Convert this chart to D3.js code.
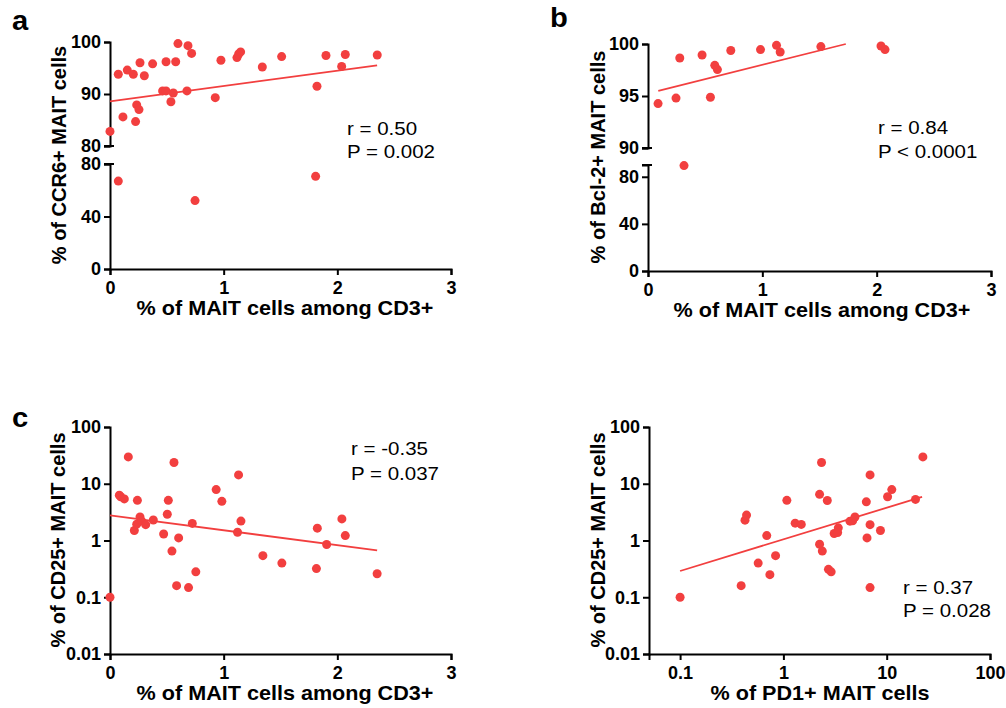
<!DOCTYPE html>
<html>
<head>
<meta charset="utf-8">
<script src="https://cdn.jsdelivr.net/npm/d3@7"></script>
<style>
  body { margin: 0; background: #fff; }
  svg { font-family: "Liberation Sans", Arial, Helvetica, sans-serif; }
</style>
</head>
<body>
<div id="chart"></div>
<script>
// panel a: CCR6+ vs % MAIT among CD3+
const aX = [0, 0.073, 0.114, 0.152, 0.205, 0.264, 0.235, 0.255, 0.225, 0.302, 0.375, 0.463, 0.493, 0.493,
  0.557, 0.536, 0.578, 0.598, 0.677, 0.686, 0.718, 0.926, 0.976, 1.117, 1.132, 1.149, 1.34, 1.51, 1.821,
  1.9, 2.038, 2.07, 2.351, 0.073, 0.748, 1.809]
const aY = [82.8, 93.8, 85.6, 94.6, 93.8, 96.0, 87.9, 87.0, 84.7, 93.5, 95.8, 90.6, 90.6, 96.2,
  90.2, 88.5, 96.2, 99.7, 90.6, 99.3, 97.8, 89.3, 96.5, 97.0, 97.7, 98.1, 95.2, 97.2, 91.5,
  97.4, 95.3, 97.6, 97.5, 67.0, 52.1, 70.6]
const aFitX = [0, 2.35], aFitY = [88.6, 95.5]

// panel b: Bcl-2+ vs % MAIT among CD3+
const bX = [0.088, 0.245, 0.278, 0.315, 0.473, 0.546, 0.584, 0.607, 0.724, 0.984, 1.124, 1.156, 1.512, 2.038, 2.073]
const bY = [94.27, 94.8, 98.65, 89.5, 98.94, 94.88, 97.95, 97.54, 99.37, 99.46, 99.87, 99.23, 99.75, 99.81, 99.46]
const bFitX = [0.09, 1.73], bFitY = [95.5, 100.0]

// panel c: CD25+ vs % MAIT among CD3+
const cX = [0.082, 0.094, 0.126, 0.161, 0.241, 0.214, 0.235, 0.264, 0.279, 0.314, 0.381, 0.472, 0.504, 0.513,
  0.563, 0.545, 0.604, 0.724, 0.934, 0.984, 1.131, 1.152, 1.122, 1.345, 1.512, 1.824, 1.816, 1.906, 2.04,
  2.07, 2.35, 0.586, 0.691, 0.755, 0]
const cY = [6.3, 5.9, 5.4, 29.7, 5.1, 1.5, 1.94, 2.6, 2.2, 1.9, 2.3, 1.3, 2.9, 5.1,
  23.7, 0.65, 1.11, 2.0, 7.9, 4.9, 14.3, 2.2, 1.4, 0.54, 0.40, 1.65, 0.32, 0.85, 2.4,
  1.22, 0.26, 0.16, 0.148, 0.28, 0.1]
const cFitX = [0, 2.35], cFitY = [2.78, 0.667]

// panel d: CD25+ vs % PD1+ MAIT
const dX = [0.425, 0.44, 0.69, 1.08, 1.30, 1.49, 2.34, 2.24, 2.66, 2.24, 2.38, 3.40, 3.1, 3.35, 4.41, 4.68,
  4.93, 6.9, 6.35, 6.9, 6.45, 8.7, 10.2, 11.2, 19.0, 22.4, 0.57, 0.84, 0.74, 0.39, 0.1, 2.73, 2.9, 6.9]
const dY = [2.28, 2.8, 1.22, 5.1, 2.02, 1.92, 23.7, 6.5, 5.07, 0.86, 0.65, 1.67, 1.33, 1.38, 2.19, 2.22,
  2.6, 14.3, 4.8, 1.9, 1.11, 1.5, 5.9, 7.9, 5.3, 29.7, 0.40, 0.54, 0.25, 0.16, 0.1, 0.31, 0.28, 0.148]
const dFitX = [0.1, 22], dFitY = [0.29, 5.87]

const linTicks = [0, 1, 2, 3]
const logYTicks = [0.01, 0.1, 1, 10, 100]
const logXTicks = [0.1, 1, 10, 100]

const red = '#f23f3f'
const width = 1006, height = 708

let svg = d3.select('#chart')
  .append('svg')
  .attr('width', width)
  .attr('height', height)

let fmt = d => String(d)

let styleAxis = (g) => {
  g.select('.domain').attr('stroke', '#000').attr('stroke-width', 2)
  g.selectAll('.tick line').attr('stroke', '#000').attr('stroke-width', 2)
  g.selectAll('.tick text')
    .attr('fill', '#000')
    .style('font-size', '18px')
    .style('font-weight', 'bold')
    .style('font-family', '"Liberation Sans", Arial, sans-serif')
}

let drawPoints = (g, xs, ys, x, yOf) => {
  g.selectAll('circle.pt')
    .data(xs.map((d, i) => [d, ys[i]]))
    .enter()
    .append('circle')
    .attr('class', 'pt')
    .attr('cx', d => x(d[0]))
    .attr('cy', d => yOf(d[1]))
    .attr('r', 4.5)
    .attr('fill', red)
}

let drawFit = (g, fx, fy, x, y) => {
  g.append('path')
    .datum(fx.map((d, i) => [d, fy[i]]))
    .attr('fill', 'none')
    .attr('stroke', red)
    .attr('stroke-width', 1.8)
    .attr('d', d3.line().x(d => x(d[0])).y(d => y(d[1])))
}

// text helper; horizontal text in the source is a little wider than the font, so stretch it
let addText = (x, y, txt, size, weight, anchor, rot) => {
  let tf = `translate(${x},${y})` + (rot ? ' rotate(-90)' : ' scale(1.08,1)')
  return svg.append('text')
    .attr('transform', tf)
    .attr('text-anchor', anchor || 'start')
    .style('font-size', size + 'px')
    .style('font-weight', weight)
    .text(txt)
}

// broken-axis panel (a, b)
let brokenPanel = (o) => {
  let x = d3.scaleLinear().domain([0, 3]).range([o.left, o.right])
  let yTop = d3.scaleLinear().domain(o.topDomain).range([o.topBottom, o.top])
  let yBot = d3.scaleLinear().domain(o.botDomain).range([o.bottom, o.botTop])
  let yOf = v => v >= o.topDomain[0] ? yTop(v) : yBot(v)

  svg.append('g')
    .attr('transform', `translate(${o.left},0)`)
    .call(d3.axisLeft(yTop).tickValues(o.topTicks).tickFormat(fmt).tickSize(6).tickPadding(3))
    .call(styleAxis)
  svg.append('g')
    .attr('transform', `translate(${o.left},0)`)
    .call(d3.axisLeft(yBot).tickValues(o.botTicks).tickFormat(fmt).tickSize(6).tickPadding(3))
    .call(styleAxis)
  // caps at the break
  ;[yTop(o.topDomain[0]), yBot(o.botDomain[1])].forEach(v => {
    svg.append('line')
      .attr('x1', o.left - 6).attr('x2', o.left + 4)
      .attr('y1', v).attr('y2', v)
      .attr('stroke', '#000').attr('stroke-width', 2)
  })
  svg.append('g')
    .attr('transform', `translate(0,${o.bottom})`)
    .call(d3.axisBottom(x).tickValues(linTicks).tickFormat(fmt).tickSize(6).tickPadding(6))
    .call(styleAxis)

  let g = svg.append('g')
  drawFit(g, o.fitX, o.fitY, x, yTop)
  drawPoints(g, o.xs, o.ys, x, yOf)
}

let logPanel = (o) => {
  let x = o.logX
    ? d3.scaleLog().domain([0.05, 100]).range([o.left, o.right])
    : d3.scaleLinear().domain([0, 3]).range([o.left, o.right])
  let y = d3.scaleLog().domain([0.01, 100]).range([o.bottom, o.top])

  svg.append('g')
    .attr('transform', `translate(${o.left},0)`)
    .call(d3.axisLeft(y).tickValues(logYTicks).tickFormat(fmt).tickSize(6).tickPadding(3))
    .call(styleAxis)
  svg.append('g')
    .attr('transform', `translate(0,${o.bottom})`)
    .call(d3.axisBottom(x).tickValues(o.logX ? logXTicks : linTicks).tickFormat(fmt).tickSize(6).tickPadding(6))
    .call(styleAxis)

  let g = svg.append('g')
  drawFit(g, o.fitX, o.fitY, x, y)
  drawPoints(g, o.xs, o.ys, x, y)
}

brokenPanel({
  left: 110, right: 451, top: 42, topBottom: 146, botTop: 164, bottom: 269,
  topDomain: [80, 100], botDomain: [0, 80], topTicks: [80, 90, 100], botTicks: [0, 40, 80],
  xs: aX, ys: aY, fitX: aFitX, fitY: aFitY
})
brokenPanel({
  left: 648, right: 991, top: 44, topBottom: 148, botTop: 165, bottom: 271,
  topDomain: [90, 100], botDomain: [0, 90], topTicks: [90, 95, 100], botTicks: [0, 40, 80],
  xs: bX, ys: bY, fitX: bFitX, fitY: bFitY
})
logPanel({
  left: 110, right: 451, top: 427, bottom: 654, logX: false,
  xs: cX, ys: cY, fitX: cFitX, fitY: cFitY
})
logPanel({
  left: 649, right: 990, top: 427, bottom: 654, logX: true,
  xs: dX, ys: dY, fitX: dFitX, fitY: dFitY
})

// panel letters
addText(12, 30, 'a', 27, 'bold')
addText(550, 27, 'b', 27, 'bold')
addText(12, 427, 'c', 27, 'bold')

// axis titles
addText(66, 155, '% of CCR6+ MAIT cells', 20, 'bold', 'middle', true)
addText(605, 157, '% of Bcl-2+ MAIT cells', 20, 'bold', 'middle', true)
addText(65, 540, '% of CD25+ MAIT cells', 20, 'bold', 'middle', true)
addText(605, 540, '% of CD25+ MAIT cells', 20, 'bold', 'middle', true)
addText(285, 315, '% of MAIT cells among CD3+', 20, 'bold', 'middle')
addText(822, 317, '% of MAIT cells among CD3+', 20, 'bold', 'middle')
addText(285, 700, '% of MAIT cells among CD3+', 20, 'bold', 'middle')
addText(820, 700, '% of PD1+ MAIT cells', 20, 'bold', 'middle')

// statistics
addText(347, 135, 'r = 0.50', 19, 'normal')
addText(347, 158, 'P = 0.002', 19, 'normal')
addText(878, 134, 'r = 0.84', 19, 'normal')
addText(878, 158, 'P < 0.0001', 19, 'normal')
addText(351, 455, 'r = -0.35', 19, 'normal')
addText(351, 480, 'P = 0.037', 19, 'normal')
addText(903, 594, 'r = 0.37', 19, 'normal')
addText(903, 617, 'P = 0.028', 19, 'normal')
</script>
</body>
</html>
